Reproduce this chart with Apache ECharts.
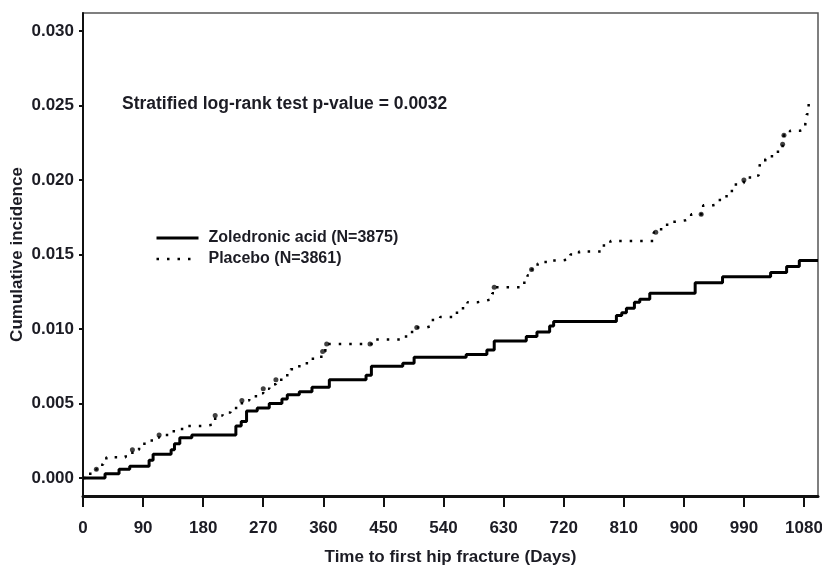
<!DOCTYPE html>
<html>
<head>
<meta charset="utf-8">
<style>
  html, body { margin: 0; padding: 0; width: 100%; height: 100%; overflow: hidden; background: #fff; }
</style>
<script src="https://cdn.jsdelivr.net/npm/echarts@6/dist/echarts.min.js"></script>
</head>
<body>
<div id="container" style="width: 822px; height: 565px;"></div>
<script>
// step points (day, cumulative incidence)
var zolDays = [0, 33, 54, 70, 99, 105, 132, 137, 145, 163, 229, 237, 245, 261, 279, 298, 306, 324, 343, 369,
  424, 432, 479, 496, 574, 605, 616, 664, 680, 699, 705, 799, 807, 814, 826, 834, 849, 917, 958, 1030,
  1054, 1073, 1101];
var zolValues = [0, 0.0003, 0.0006, 0.0008, 0.0012, 0.0016, 0.0019, 0.0023, 0.0027, 0.0029, 0.0035, 0.0038,
  0.0045, 0.0047, 0.0050, 0.0053, 0.0056, 0.0058, 0.0061, 0.0066, 0.0069, 0.0075, 0.0077, 0.0081, 0.0083,
  0.0086, 0.0092, 0.0095, 0.0098, 0.0102, 0.0105, 0.0109, 0.0111, 0.0114, 0.0118, 0.0120, 0.0124, 0.0131,
  0.0135, 0.0138, 0.0142, 0.0146, 0.0146];

var plaDays = [0, 9, 20, 25, 30, 35, 64, 74, 84, 92, 103, 114, 136, 153, 179, 198, 209, 221, 238, 249, 259,
  270, 279, 289, 299, 311, 321, 331, 341, 357, 363, 437, 479, 491, 500, 514, 522, 535, 556, 566, 576, 591,
  603, 613, 616, 657, 666, 672, 681, 693, 718, 730, 743, 778, 790, 855, 866, 875, 888, 903, 911, 929, 944,
  954, 964, 972, 978, 990, 999, 1012, 1014, 1022, 1032, 1041, 1048, 1050, 1059, 1074, 1082, 1084, 1087];
var plaValues = [0, 0.0003, 0.0006, 0.0009, 0.0012, 0.0014, 0.0016, 0.0019, 0.0022, 0.0024, 0.0027, 0.0029,
  0.0033, 0.0035, 0.0036, 0.0042, 0.0044, 0.0047, 0.0052, 0.0054, 0.0057, 0.0060, 0.0063, 0.0066, 0.0069,
  0.0073, 0.0075, 0.0077, 0.0080, 0.0085, 0.0090, 0.0093, 0.0095, 0.0098, 0.0101, 0.0102, 0.0106, 0.0108,
  0.0111, 0.0114, 0.0118, 0.0119, 0.0120, 0.0124, 0.0128, 0.0131, 0.0136, 0.0140, 0.0144, 0.0146, 0.0147,
  0.0150, 0.0152, 0.0156, 0.0159, 0.0165, 0.0169, 0.0172, 0.0173, 0.0174, 0.0177, 0.0183, 0.0184, 0.0188,
  0.0191, 0.0194, 0.0198, 0.0200, 0.0203, 0.0204, 0.0211, 0.0214, 0.0218, 0.0221, 0.0224, 0.0230, 0.0233,
  0.0234, 0.0238, 0.0244, 0.0251];

// heavier dots on the placebo curve
var markDays = [20, 74, 114, 198, 238, 270, 289, 359, 365, 430, 500, 616, 672, 858, 926, 990, 1048, 1050];
var markValues = [0.0006, 0.0019, 0.0029, 0.0042, 0.0052, 0.0060, 0.0066, 0.0085, 0.0090, 0.0090, 0.0101,
  0.0128, 0.0140, 0.0165, 0.0177, 0.0200, 0.0224, 0.0230];

var xTicks = [0, 90, 180, 270, 360, 450, 540, 630, 720, 810, 900, 990, 1080];
var yTicks = [0, 0.005, 0.010, 0.015, 0.020, 0.025, 0.030];

var seriesNames = ['Zoledronic acid (N=3875)', 'Placebo (N=3861)'];
var note = 'Stratified log-rank test p-value = 0.0032';

function zip(a, b) {
  var out = [];
  for (var i = 0; i < a.length; i++) out.push([a[i], b[i]]);
  return out;
}

var font = 'Liberation Sans, Arial, sans-serif';
var ink = '#1c1c24';

var chart = echarts.init(document.getElementById('container'), null, { renderer: 'canvas' });

var option = {
  animation: false,
  textStyle: { fontFamily: font },
  title: {
    text: note,
    left: 122,
    top: 95,
    padding: 0,
    textStyle: { fontSize: 17.5, fontWeight: 'bold', color: ink, fontFamily: font }
  },
  legend: {
    data: [
      { name: seriesNames[0], lineStyle: { color: '#000', width: 3 } },
      { name: seriesNames[1], lineStyle: { color: '#000', width: 2.5, type: [2.5, 8], cap: 'butt' } }
    ],
    orient: 'vertical',
    left: 155,
    top: 230,
    padding: 0,
    itemWidth: 42,
    itemHeight: 14,
    itemGap: 5,
    itemStyle: { color: 'rgba(0,0,0,0)', borderWidth: 0, opacity: 0 },
    textStyle: { fontSize: 16, fontWeight: 'bold', color: ink, fontFamily: font, padding: [0, 0, 0, 5] }
  },
  grid: {
    left: 83, right: 4, top: 13, bottom: 69,
    outerBoundsMode: 'none',
    containLabel: false,
    show: true,
    borderColor: '#555',
    borderWidth: 1.5
  },
  xAxis: {
    type: 'value',
    min: 0,
    max: 1101,
    name: 'Time to first hip fracture (Days)',
    nameLocation: 'middle',
    nameGap: 53,
    nameMoveOverlap: false,
    nameTextStyle: { fontSize: 17, fontWeight: 'bold', color: ink, fontFamily: font },
    axisLine: { show: true, onZero: false, lineStyle: { color: '#111', width: 3 } },
    axisTick: { show: true, length: 11, customValues: xTicks, lineStyle: { color: '#111', width: 2 } },
    axisLabel: {
      customValues: xTicks, margin: 24, fontSize: 17, fontWeight: 'bold', color: ink, fontFamily: font,
      formatter: function (v) { return String(v); }
    },
    splitLine: { show: false }
  },
  yAxis: {
    type: 'value',
    min: -0.0012,
    max: 0.0312,
    name: 'Cumulative incidence',
    nameLocation: 'middle',
    nameGap: 57,
    nameMoveOverlap: false,
    nameTextStyle: { fontSize: 17, fontWeight: 'bold', color: ink, fontFamily: font },
    axisLine: { show: true, onZero: false, lineStyle: { color: '#111', width: 2 } },
    axisTick: { show: true, length: 4, customValues: yTicks, lineStyle: { color: '#111', width: 2 } },
    axisLabel: {
      customValues: yTicks, margin: 9, fontSize: 17, fontWeight: 'bold', color: ink, fontFamily: font,
      formatter: function (v) { return v.toFixed(3); }
    },
    splitLine: { show: false }
  },
  series: [
    {
      name: seriesNames[0],
      type: 'line',
      step: 'end',
      symbol: 'none',
      data: zip(zolDays, zolValues),
      lineStyle: { color: '#000', width: 3 },
      itemStyle: { color: '#000' }
    },
    {
      name: seriesNames[1],
      type: 'line',
      step: 'end',
      symbol: 'none',
      data: zip(plaDays, plaValues),
      lineStyle: { color: '#000', width: 2.5, type: [2.5, 8], cap: 'butt' },
      itemStyle: { color: '#000' }
    },
    {
      name: 'marks',
      type: 'scatter',
      symbol: 'circle',
      symbolSize: 5,
      data: zip(markDays, markValues),
      itemStyle: { color: '#111' }
    }
  ]
};

chart.setOption(option);
window.addEventListener('resize', chart.resize);
</script>
</body>
</html>
